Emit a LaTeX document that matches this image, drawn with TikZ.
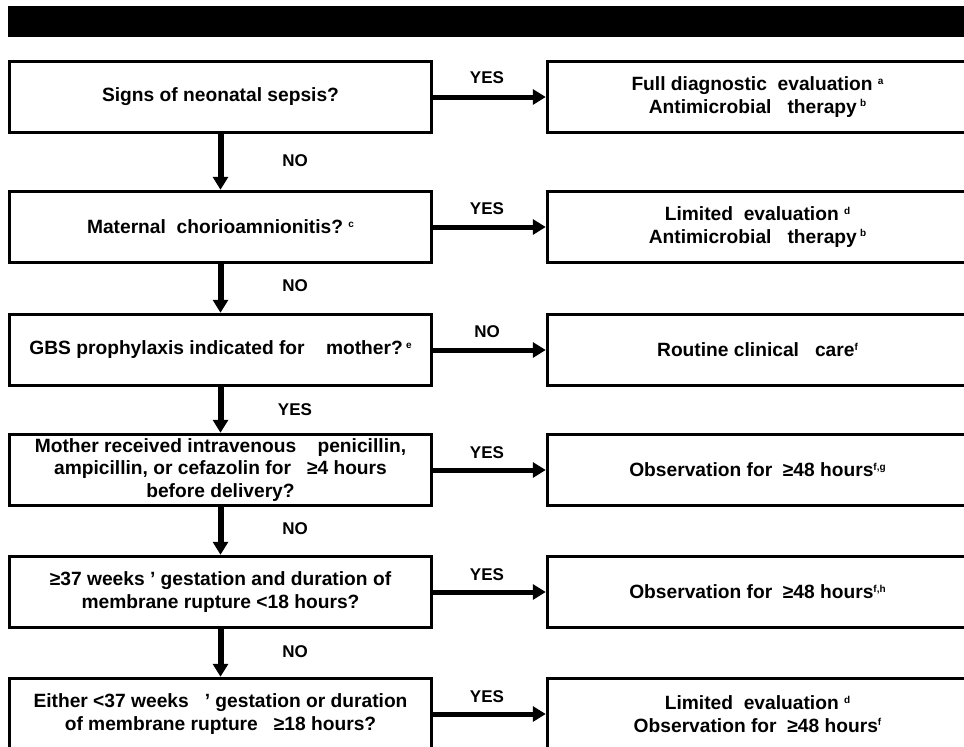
\documentclass[tikz,border=0pt]{standalone}
\usepackage{fontspec}
\setmainfont{Liberation Sans}
\usetikzlibrary{arrows.meta}
\newcommand{\fnote}[1]{\raisebox{0.65ex}{\fontsize{10}{10}\selectfont #1}}
\tikzset{
	qbox/.style={draw, line width=3.5pt, minimum width=422pt, minimum height=71pt,
		inner sep=0pt, align=center, font=\fontsize{19.2}{22.5}\selectfont\bfseries},
	abox/.style={qbox, minimum width=420pt},
	flow/.style={line width=5pt, -{Triangle[length=13pt,width=15pt]}},
	down/.style={flow, line width=6pt},
	lab/.style={font=\fontsize{17}{20}\selectfont\bfseries}
}
\begin{document}
\begin{tikzpicture}[x=1pt,y=-1pt]
	\useasboundingbox (0,0) rectangle (964,747);
	\clip (0,0) rectangle (964,747);
	% title bar
	\fill (8,6) rectangle (975,37);
	% questions
	\node[qbox] (q1) at (220.5,97) {Signs of neonatal sepsis?};
	\node[qbox] (q2) at (220.5,227) {Maternal\ \ chorioamnionitis?\ \fnote{c}};
	\node[qbox] (q3) at (220.5,350) {GBS prophylaxis indicated for\ \ \ \ mother?\,\fnote{e}};
	\node[qbox] (q4) at (220.5,470) {Mother received intravenous\ \ \ \ penicillin,\\
		ampicillin, or cefazolin for\ \ \ ≥4 hours\\before delivery?};
	\node[qbox] (q5) at (220.5,592) {≥37 weeks\ ’ gestation and duration of\\
		membrane rupture <18 hours?};
	\node[qbox] (q6) at (220.5,714) {Either <37 weeks\ \ \ ’ gestation or duration\\
		of membrane rupture\ \ \ ≥18 hours?};
	% outcomes
	\node[abox] (a1) at (757.5,97) {Full diagnostic\ \ evaluation\ \fnote{a}\\
		Antimicrobial\ \ \ therapy\,\fnote{b}};
	\node[abox] (a2) at (757.5,227) {Limited\ \ evaluation\ \fnote{d}\\
		Antimicrobial\ \ \ therapy\,\fnote{b}};
	\node[abox] (a3) at (757.5,350) {Routine clinical\ \ \ care\fnote{f}};
	\node[abox] (a4) at (757.5,470) {Observation for\ \ ≥48\ hours\fnote{f,g}};
	\node[abox] (a5) at (757.5,592) {Observation for\ \ ≥48\ hours\fnote{f,h}};
	\node[abox] (a6) at (757.5,714) {Limited\ \ evaluation\ \fnote{d}\\
		Observation for\ \ ≥48 hours\fnote{f}};
	% down
	\draw[down] (q1.south) -- (q2.north);
	\draw[down] (q2.south) -- (q3.north);
	\draw[down] (q3.south) -- (q4.north);
	\draw[down] (q4.south) -- (q5.north);
	\draw[down] (q5.south) -- (q6.north);
	\node[lab] (d1) at (295,161) {NO};
	\node[lab] (d2) at (295,286) {NO};
	\node[lab] (d3) at (295,410) {YES};
	\node[lab] (d4) at (295,529) {NO};
	\node[lab] (d5) at (295,652) {NO};
	% across
	\draw[flow] (q1.east) -- (a1.west);
	\draw[flow] (q2.east) -- (a2.west);
	\draw[flow] (q3.east) -- (a3.west);
	\draw[flow] (q4.east) -- (a4.west);
	\draw[flow] (q5.east) -- (a5.west);
	\draw[flow] (q6.east) -- (a6.west);
	\node[lab] (r1) at (487,78) {YES};
	\node[lab] (r2) at (487,209) {YES};
	\node[lab] (r3) at (487,332) {NO};
	\node[lab] (r4) at (487,453) {YES};
	\node[lab] (r5) at (487,575) {YES};
	\node[lab] (r6) at (487,697) {YES};
\end{tikzpicture}
\end{document}
